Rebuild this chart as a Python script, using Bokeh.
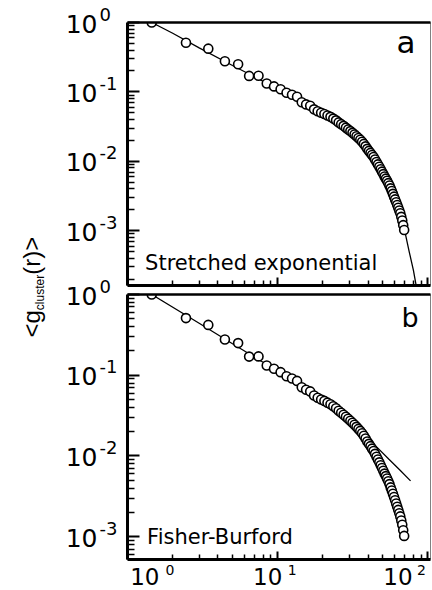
import math
from bokeh.plotting import figure
from bokeh.layouts import row, column
from bokeh.models import Range1d, FixedTicker, LogAxis, LogScale, Label
from bokeh.embed import file_html
from bokeh.resources import INLINE

# pair distance r and cluster-averaged pair correlation <g_cluster(r)>
r = [1.45, 2.45, 3.45, 4.45, 5.45, 6.45, 7.45, 8.45, 9.45, 10.45,
     11.45, 12.45, 13.45, 14.45, 15.45, 16.45, 17.45, 18.45, 19.45, 20.45,
     21.45, 22.45, 23.45, 24.45, 25.45, 26.45, 27.45, 28.45, 29.45, 30.45,
     31.45, 32.45, 33.45, 34.45, 35.45, 36.45, 37.45, 38.45, 39.45, 40.45,
     41.45, 42.45, 43.45, 44.45, 45.45, 46.45, 47.45, 48.45, 49.45, 50.45,
     51.45, 52.45, 53.45, 54.45, 55.45, 56.45, 57.45, 58.45, 59.45, 60.45,
     61.45, 62.45, 63.45, 64.45, 65.45, 66.45, 67.45, 68.45, 69.45]
g = [1.0, 0.51, 0.42, 0.277, 0.25, 0.17, 0.171, 0.132, 0.12, 0.109,
     0.097, 0.091, 0.085, 0.071, 0.066, 0.063, 0.056, 0.0525, 0.050, 0.048,
     0.0457, 0.0437, 0.0412, 0.0389, 0.0363, 0.0343, 0.0324, 0.0305, 0.0288, 0.0272,
     0.0257, 0.0243, 0.0229, 0.0216, 0.0204, 0.0191, 0.0178, 0.0164, 0.0151, 0.0141,
     0.0132, 0.0123, 0.0115, 0.0106, 0.00977, 0.00902, 0.00832, 0.00767, 0.00708, 0.00653,
     0.00603, 0.00562, 0.00525, 0.00484, 0.00447, 0.00407, 0.00372, 0.00339, 0.00309, 0.00282,
     0.00257, 0.00234, 0.00214, 0.00195, 0.00178, 0.00158, 0.00140, 0.00120, 0.00102]

# stretched-exponential fit curve
r_se = [1.45, 2, 3, 5, 7, 10, 15, 20, 25, 30, 35, 40, 45, 50, 55, 60, 65, 70, 75, 80, 84]
g_se = [1.0, 0.70, 0.43, 0.24, 0.165, 0.112, 0.068, 0.048, 0.0378, 0.0296, 0.0218,
        0.0148, 0.0102, 0.0069, 0.0046, 0.00295, 0.00185, 0.00100, 0.00050, 0.00027, 0.00015]

# Fisher-Burford fit curve
r_fb = [1.45, 3, 5, 7, 10, 15, 20, 25, 30, 35, 45, 55, 65, 76.6]
g_fb = [1.0, 0.44, 0.245, 0.168, 0.112, 0.068, 0.048, 0.0375, 0.028, 0.021,
        0.0132, 0.0091, 0.0067, 0.0049]

x_major = [1, 10, 100]
x_minor = [m * 10 ** k for k in range(0, 3) for m in range(2, 10)]
x_tick_exponents = ["0", "1", "2"]
y_major = [1, 0.1, 0.01, 0.001]
y_minor = [m * 10.0 ** k for k in range(-4, 0) for m in range(2, 10)]
y_tick_exponents = ["0", "-1", "-2", "-3"]

FONT = "DejaVu Sans"
X_LO, X_HI = 1.0, 104.0
YA_LO, YB_LO = 1.62e-4, 5.2e-4

# page geometry (pixels from the top of the 590 px page)
H = 590
LEFT_W = 123
A_H, A_TOP, A_BOT = 287, 22, 2          # upper panel: height, top and bottom borders
B_H, B_TOP, B_BOT = 274, 7, 2           # lower panel
FRAME_H_A = A_H - A_TOP - A_BOT
FRAME_H_B = B_H - B_TOP - B_BOT
STRIP_H = H - A_H - B_H


def hide_labels(ax):
    ax.major_label_standoff = 0
    ax.major_label_text_font_size = "1px"
    ax.major_label_text_alpha = 0


def text(p, x, y, s, size, font=FONT, align="left", **kw):
    p.add_layout(Label(x=x, y=y, text=s, text_font=font, text_font_size=size,
                       text_color="black", text_align=align,
                       text_baseline="middle", **kw))


def panel(y_low, height, border_top, border_bottom):
    p = figure(width=309, height=height, x_axis_type="log", y_axis_type="log",
               x_range=Range1d(X_LO, X_HI), y_range=Range1d(y_low, 1.0),
               min_border_left=4, min_border_right=2,
               min_border_top=border_top, min_border_bottom=border_bottom,
               toolbar_location=None, output_backend="svg")
    p.grid.visible = False
    p.outline_line_color = "#808080"
    p.outline_line_width = 1
    p.background_fill_color = "white"
    p.border_fill_color = "white"

    ya = p.yaxis[0]
    ya.ticker = FixedTicker(ticks=y_major, minor_ticks=y_minor)
    ya.axis_line_width = 3
    ya.major_tick_in, ya.major_tick_out = 12, 0
    ya.minor_tick_in, ya.minor_tick_out = 7, 0
    ya.major_tick_line_width = 2
    ya.minor_tick_line_width = 1.5
    hide_labels(ya)

    xa = p.xaxis[0]
    xa.ticker = FixedTicker(ticks=x_major, minor_ticks=x_minor)
    xa.axis_line_width = 3
    xa.major_tick_in, xa.major_tick_out = 8, 0
    xa.minor_tick_in, xa.minor_tick_out = 5, 0
    xa.major_tick_line_width = 2
    xa.minor_tick_line_width = 1.5
    hide_labels(xa)

    top = LogAxis(ticker=FixedTicker(ticks=[1], minor_ticks=[]), axis_line_width=2.5,
                  major_tick_in=0, major_tick_out=0, minor_tick_in=0, minor_tick_out=0)
    hide_labels(top)
    p.add_layout(top, "above")
    return p


def draw(p, rx, gy):
    p.line(rx, gy, line_color="black", line_width=1.3)
    p.scatter(r, g, size=9, marker="circle", fill_color="white",
              line_color="black", line_width=1.6)


pa = panel(YA_LO, A_H, A_TOP, A_BOT)
draw(pa, r_se, g_se)
text(pa, 61.7, 0.52, "a", "31px")
text(pa, 1.31, 3.47e-4, "Stretched exponential", "21px")

pb = panel(YB_LO, B_H, B_TOP, B_BOT)
draw(pb, r_fb, g_fb)
text(pb, 66.8, 0.524, "b", "27px")
text(pb, 1.35, 1.0e-3, "Fisher-Burford", "21px")

# strip under the lower panel holding its x tick labels (base plus raised exponent)
xl = figure(width=309, height=STRIP_H, x_axis_type="log", x_range=Range1d(X_LO, X_HI),
            y_range=Range1d(0, STRIP_H), min_border_left=4, min_border_right=2,
            min_border_top=0, min_border_bottom=0,
            toolbar_location=None, output_backend="svg")
xl.axis.visible = False
xl.grid.visible = False
xl.outline_line_color = None
base_dx = [2.7, -24.6, -44.6]
expo_dx = [38, 10, -11]
for tv, ex, bdx, edx in zip(x_major, x_tick_exponents, base_dx, expo_dx):
    text(xl, tv, 14, "10", "23px", x_offset=bdx)
    text(xl, tv, STRIP_H - 8.2, ex, "14px", x_offset=edx)


def page_log_range(frame_top, frame_h, lo, hi):
    """Log range that spans the whole page height with the panel's own scale."""
    per_px = (math.log10(hi) - math.log10(lo)) / frame_h
    top = math.log10(hi) + frame_top * per_px
    bottom = math.log10(lo) - (H - frame_top - frame_h) * per_px
    return Range1d(10 ** bottom, 10 ** top)


# left strip: y tick labels of both panels and the shared y-axis title
lab = figure(width=LEFT_W, height=H, x_range=Range1d(0, LEFT_W), y_range=Range1d(0, H),
             min_border=0, toolbar_location=None, output_backend="svg",
             extra_y_ranges={"ya": page_log_range(A_TOP, FRAME_H_A, YA_LO, 1.0),
                             "yb": page_log_range(A_H + B_TOP, FRAME_H_B, YB_LO, 1.0)},
             extra_y_scales={"ya": LogScale(), "yb": LogScale()})
lab.axis.visible = False
lab.grid.visible = False
lab.outline_line_color = None

for rng in ("ya", "yb"):
    for tv, ex in zip(y_major, y_tick_exponents):
        text(lab, 97, tv, "10", "25px", align="right", y_range_name=rng, y_offset=-1)
        text(lab, 99, tv, ex, "18px", align="left", y_range_name=rng, y_offset=8.5)

LFONT = "Liberation Sans"
rot = math.pi / 2
text(lab, 31, 266.7, "<g", "24px", font=LFONT, angle=rot, align="center")
text(lab, 39, 298, "cluster", "12px", font=LFONT, angle=rot, align="center")
text(lab, 31, 334.7, "(r)>", "24px", font=LFONT, angle=rot, align="center")

layout = row(lab, column(pa, pb, xl))
open("out.html", "w").write(file_html(layout, INLINE))
